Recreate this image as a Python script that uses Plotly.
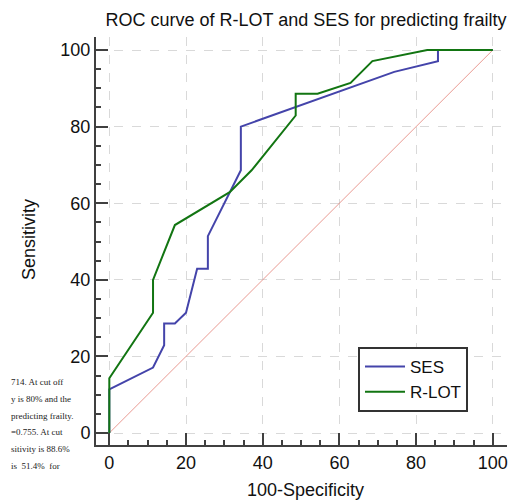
import plotly.graph_objects as go

# ---- data ----
ses_x = [0, 0, 11.4, 14.3, 14.3, 17.1, 20.0, 22.9, 25.7, 25.7, 34.3, 34.3, 74.3, 85.7, 85.7, 100]
ses_y = [0, 11.4, 17.1, 22.9, 28.6, 28.6, 31.4, 42.9, 42.9, 51.4, 68.6, 80.0, 94.3, 97.1, 100, 100]

rlot_x = [0, 0, 11.4, 11.4, 17.1, 31.4, 37.1, 48.6, 48.6, 54.3, 62.9, 68.6, 82.9, 100]
rlot_y = [0, 14.3, 31.4, 40.0, 54.3, 62.9, 68.6, 82.9, 88.6, 88.6, 91.4, 97.1, 100, 100]

diag_x = [0, 100]
diag_y = [0, 100]

tick_vals = [0, 20, 40, 60, 80, 100]
tick_text = ["0", "20", "40", "60", "80", "100"]

side_text = [
    "714. At cut off",
    "y is 80% and the",
    "predicting frailty.",
    "=0.755. At cut",
    "sitivity is 88.6%",
    "is  51.4%  for",
]
side_y_ref = [382, 399, 416, 432, 449, 466]

# page body has an 8px margin; work in reference pixels minus that offset
OFF = 8
W, H = 532 - OFF, 503 - OFF
L, R, T, B = 96 - OFF, 532 - 507, 37 - OFF, 503 - 445
PW, PH = W - L - R, H - T - B


def px_x(xr):
    return (xr - OFF - L) / PW


def px_y(yr):
    return (H - B - (yr - OFF)) / PH


fig = go.Figure()
fig.add_trace(go.Scatter(x=diag_x, y=diag_y, mode="lines", showlegend=False,
                         line=dict(color="rgba(225,120,110,0.75)", width=1), hoverinfo="skip"))
fig.add_trace(go.Scatter(x=ses_x, y=ses_y, mode="lines", name="SES",
                         line=dict(color="#4444aa", width=2)))
fig.add_trace(go.Scatter(x=rlot_x, y=rlot_y, mode="lines", name="R-LOT",
                         line=dict(color="#127512", width=2)))

axis_common = dict(
    showline=True, linecolor="#404040", linewidth=2,
    ticks="inside", ticklen=12, tickwidth=2, tickcolor="#404040",
    tickvals=tick_vals, ticktext=tick_text,
    tickfont=dict(family="Liberation Sans, Arial", size=18, color="#111"),
    showgrid=True, gridcolor="#d9d9d9", gridwidth=1, griddash="dash",
    zeroline=False,
    minor=dict(ticks="inside", ticklen=5, tickwidth=1.5, tickcolor="#404040",
               dtick=5, tick0=0, showgrid=False),
)

fig.update_xaxes(range=[-3.47, 103.7], **axis_common)
fig.update_yaxes(range=[-3.13, 103.4], **axis_common)

annotations = [
    dict(text="Sensitivity", x=px_x(29), y=px_y(240), xref="paper", yref="paper",
         showarrow=False, textangle=-90, xanchor="center", yanchor="middle",
         font=dict(family="Liberation Sans, Arial", size=18, color="#111")),
    dict(text="100-Specificity", x=px_x(305), y=px_y(490), xref="paper", yref="paper",
         showarrow=False, xanchor="center", yanchor="middle",
         font=dict(family="Liberation Sans, Arial", size=18, color="#111")),
]
for t, py in zip(side_text, side_y_ref):
    annotations.append(dict(text=t, x=px_x(8.5), y=px_y(py), xref="paper", yref="paper",
                            showarrow=False, xanchor="left", yanchor="middle",
                            font=dict(family="Liberation Serif, Times New Roman", size=9, color="#222")))

fig.update_layout(
    width=W, height=H,
    margin=dict(l=L, r=R, t=T, b=B),
    paper_bgcolor="white", plot_bgcolor="white",
    title=dict(text="ROC curve of R-LOT and SES for predicting frailty",
               x=(306 - OFF) / W, xanchor="center", y=1 - (20 - OFF) / H, yanchor="middle",
               font=dict(family="Liberation Sans, Arial", size=18, color="#111")),
    legend=dict(x=px_x(358), y=px_y(347), xanchor="left", yanchor="top",
                bordercolor="#333", borderwidth=2, bgcolor="white",
                font=dict(family="Liberation Sans, Arial", size=17, color="#111"),
                itemwidth=40, tracegroupgap=0),
    annotations=annotations,
    showlegend=True,
)

fig.write_html("out.html")
